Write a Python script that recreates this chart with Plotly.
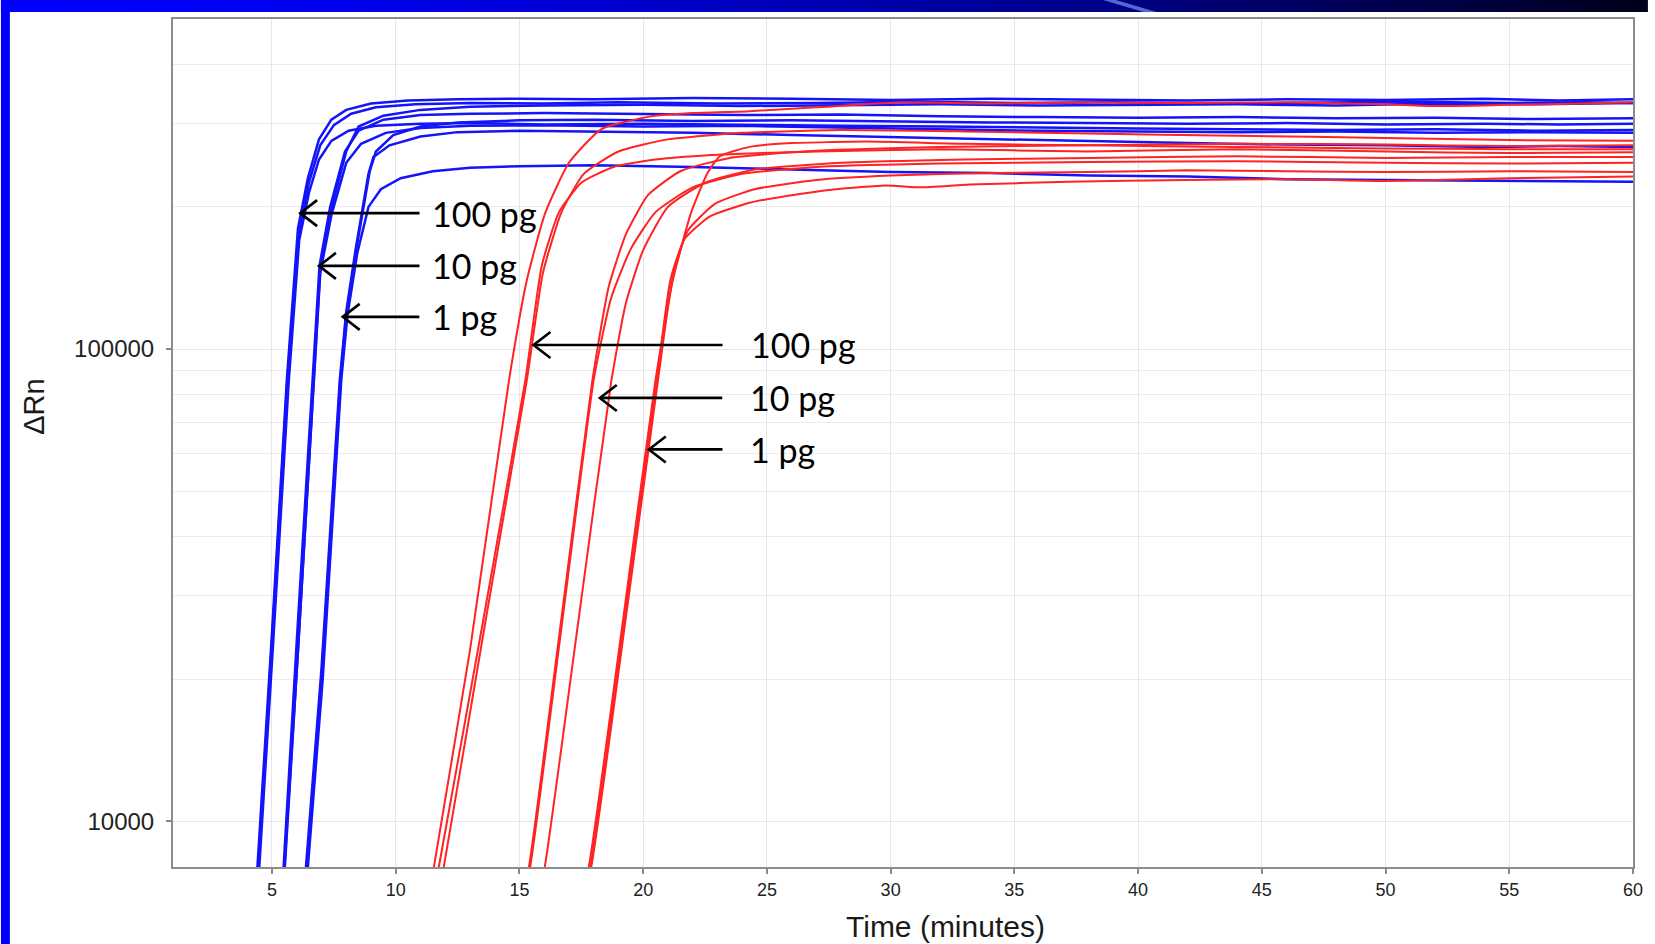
import math
import plotly.graph_objects as go

# ---------------- amplification curves (time in minutes, ΔRn) ----------------
# Blue chemistry: 100 pg (A), 10 pg (B), 1 pg (C), three replicates each
blue_a1_t = [1, 3, 4.0, 4.42, 5.0, 5.6, 6.05, 6.45, 6.9, 7.4, 8.0, 9.0, 10.5, 12.5, 15, 18, 22, 26, 30, 34, 38, 42, 46, 50, 54, 57, 60]
blue_a1_v = [1500, 2100, 3600, 8000, 25000, 86000, 180000, 230000, 278000, 306000, 321000, 331000, 336000, 338000, 339000, 338000, 340000, 339000, 337000, 339000, 338000, 336000, 338000, 337000, 339000, 336000, 338000]
blue_a2_t = [1, 3, 4.0, 4.45, 5.0, 5.62, 6.1, 6.5, 6.95, 7.5, 8.2, 9.2, 10.8, 13, 16, 19, 23, 27, 31, 35, 39, 43, 47, 51, 55, 58, 60]
blue_a2_v = [1400, 2000, 3300, 8000, 24000, 86000, 178000, 226000, 270000, 298000, 315000, 325000, 330000, 332000, 331000, 333000, 331000, 332000, 334000, 332000, 333000, 331000, 333000, 334000, 332000, 333000, 332000]
blue_a3_t = [1, 3, 4.0, 4.5, 5.05, 5.68, 6.1, 6.5, 6.9, 7.4, 8.1, 9.2, 11, 13, 16, 20, 24, 28, 32, 36, 40, 44, 48, 52, 56, 60]
blue_a3_v = [1300, 1900, 3100, 8000, 24000, 86000, 170000, 215000, 252000, 276000, 290000, 297000, 300000, 301000, 299000, 300000, 298000, 297000, 296000, 294000, 293000, 292000, 291000, 292000, 290000, 291000]
blue_b1_t = [1, 3, 5.0, 5.47, 6.0, 6.65, 6.92, 7.35, 7.95, 8.5, 9.5, 11, 13, 16, 20, 24, 28, 32, 36, 40, 44, 48, 52, 56, 60]
blue_b1_v = [1300, 1900, 3500, 8000, 24000, 86000, 150000, 200000, 262000, 290000, 306000, 313000, 315000, 316000, 314000, 313000, 314000, 311000, 310000, 309000, 310000, 308000, 309000, 307000, 308000]
blue_b2_t = [1, 3, 5.0, 5.5, 6.05, 6.68, 6.95, 7.4, 8.0, 8.6, 9.6, 11, 13, 16, 20, 24, 28, 32, 36, 40, 44, 48, 52, 56, 60]
blue_b2_v = [1200, 1800, 3500, 8000, 23000, 86000, 145000, 192000, 248000, 272000, 287000, 294000, 297000, 298000, 296000, 297000, 294000, 292000, 290000, 289000, 288000, 289000, 287000, 288000, 287000]
blue_b3_t = [1, 3, 5.0, 5.52, 6.05, 6.68, 6.95, 7.4, 8.0, 8.5, 9.5, 11, 13, 16, 20, 24, 28, 32, 36, 40, 44, 48, 52, 56, 60]
blue_b3_v = [1200, 1800, 3400, 8000, 23000, 86000, 148000, 198000, 262000, 296000, 312000, 321000, 326000, 328000, 329000, 327000, 328000, 330000, 328000, 329000, 330000, 328000, 331000, 330000, 332000]
blue_c1_t = [1, 3, 6.0, 6.38, 7.0, 7.74, 8.0, 8.4, 8.9, 9.1, 9.75, 11, 12.5, 15, 18, 22, 26, 30, 34, 38, 42, 46, 50, 54, 57, 60]
blue_c1_v = [1100, 1700, 4500, 8000, 21000, 86000, 120000, 165000, 235000, 255000, 270000, 282000, 288000, 290000, 289000, 287000, 284000, 281000, 278000, 275000, 273000, 271000, 270000, 268000, 269000, 268000]
blue_c2_t = [1, 3, 6.0, 6.42, 7.0, 7.76, 8.0, 8.4, 8.95, 9.2, 9.9, 11, 12.5, 15, 18, 22, 26, 30, 34, 38, 42, 46, 50, 54, 57, 60]
blue_c2_v = [1100, 1700, 4400, 8000, 20000, 86000, 118000, 162000, 238000, 262000, 284000, 296000, 302000, 305000, 306000, 304000, 305000, 303000, 302000, 301000, 300000, 301000, 299000, 300000, 299000, 300000]
blue_c3_t = [1, 3, 6.0, 6.45, 7.05, 7.8, 8.05, 8.45, 8.9, 9.4, 10.2, 11.5, 13, 15, 18, 22, 26, 30, 34, 38, 42, 46, 50, 54, 57, 60]
blue_c3_v = [1000, 1600, 4200, 8000, 20000, 86000, 118000, 160000, 200000, 218000, 230000, 238000, 242000, 244000, 245000, 243000, 240000, 237000, 236000, 233000, 232000, 229000, 228000, 227000, 226000, 226000]

# Red chemistry: 100 pg (R1-R3), 10 pg (R4-R6), 1 pg (R7-R9)
red_1_t = [1, 6, 9, 10.5, 11.56, 13, 14.58, 15.3, 16.04, 17.0, 18.3, 20.3, 22, 24.3, 27, 30.5, 34, 38, 42, 46, 50, 52, 55, 58, 60]
red_1_v = [500, 900, 2000, 3600, 8100, 23000, 86000, 140000, 194000, 248000, 292000, 311000, 316000, 319000, 325000, 333000, 331000, 333000, 332000, 333000, 330000, 327000, 329000, 331000, 333000]
red_2_t = [1, 6, 9, 10.5, 11.76, 13.5, 15.24, 15.9, 16.6, 17.5, 18.8, 20.5, 23, 27, 32, 38, 44, 50, 55, 60]
red_2_v = [450, 850, 1900, 3500, 8100, 26000, 86000, 150000, 195000, 225000, 243000, 252000, 258000, 262000, 265000, 262000, 265000, 262000, 260000, 261000]
red_3_t = [1, 6, 9, 10.8, 11.96, 13.6, 15.3, 15.95, 16.7, 17.6, 19, 21, 24, 28, 33, 38, 44, 50, 55, 60]
red_3_v = [430, 800, 1800, 3800, 8100, 26000, 86000, 145000, 195000, 235000, 262000, 278000, 287000, 291000, 289000, 286000, 283000, 280000, 277000, 276000]
red_4_t = [1, 8, 12, 14.2, 15.4, 16.7, 17.95, 18.6, 19.3, 20.2, 21.5, 23.5, 27, 32, 38, 44, 50, 55, 60]
red_4_v = [400, 700, 1600, 3800, 8100, 27000, 86000, 135000, 175000, 212000, 238000, 254000, 263000, 268000, 270000, 272000, 271000, 269000, 270000]
red_5_t = [1, 8, 12, 14.2, 15.45, 16.75, 18.0, 18.7, 19.5, 20.5, 22, 24, 27, 32, 38, 44, 50, 55, 60]
red_5_v = [400, 700, 1500, 3600, 8100, 27000, 86000, 128000, 163000, 195000, 220000, 235000, 243000, 247000, 249000, 250000, 248000, 247000, 248000]
red_6_t = [1, 8, 12, 14.8, 16.04, 17.4, 18.72, 19.3, 20.0, 21.0, 22.5, 24.5, 28, 33, 38, 44, 50, 55, 60]
red_6_v = [380, 650, 1400, 3600, 8100, 27000, 86000, 125000, 162000, 200000, 225000, 240000, 248000, 252000, 254000, 256000, 254000, 255000, 255000]
red_7_t = [1, 8, 13, 16.5, 17.82, 19.2, 20.5, 21.2, 21.93, 22.6, 23.1, 24.3, 26, 29, 33, 38, 44, 50, 55, 60]
red_7_v = [350, 600, 1300, 3800, 8100, 27000, 86000, 140000, 194000, 236000, 256000, 268000, 273000, 275000, 272000, 270000, 268000, 266000, 265000, 265000]
red_8_t = [1, 8, 13, 16.5, 17.88, 19.25, 20.55, 21.1, 21.67, 22.7, 24.3, 25.8, 27.8, 29.8, 31.2, 33.2, 37.2, 41.9, 46, 50, 55, 60]
red_8_v = [330, 580, 1250, 3700, 8100, 27000, 86000, 140000, 171000, 191000, 204000, 211000, 218000, 222000, 220000, 223000, 226000, 228000, 229000, 227000, 230000, 232000]
red_9_t = [1, 8, 13, 16.6, 17.92, 19.3, 20.6, 21.2, 21.8, 22.9, 24.5, 27, 30, 34, 38, 42, 46, 50, 55, 60]
red_9_v = [320, 560, 1200, 3800, 8100, 27000, 86000, 142000, 178000, 203000, 218000, 228000, 233000, 236000, 237000, 239000, 238000, 237000, 238000, 237000]

blue_curves = [
    (blue_a1_t, blue_a1_v), (blue_a2_t, blue_a2_v), (blue_a3_t, blue_a3_v),
    (blue_b1_t, blue_b1_v), (blue_b2_t, blue_b2_v), (blue_b3_t, blue_b3_v),
    (blue_c1_t, blue_c1_v), (blue_c2_t, blue_c2_v), (blue_c3_t, blue_c3_v),
]
red_curves = [
    (red_1_t, red_1_v), (red_2_t, red_2_v), (red_3_t, red_3_v),
    (red_4_t, red_4_v), (red_5_t, red_5_v), (red_6_t, red_6_v),
    (red_7_t, red_7_v), (red_8_t, red_8_v), (red_9_t, red_9_v),
]

# Axis ticks and ranges
x_range = [1, 60]
y_range = [8000, 500000]
x_ticks = [5, 10, 15, 20, 25, 30, 35, 40, 45, 50, 55, 60]
y_ticks = [10000, 100000]
y_ticktext = ["10000", "100000"]
y_minor = [20000, 30000, 40000, 50000, 60000, 70000, 80000, 90000, 200000, 300000, 400000]

# Concentration labels with arrow tips (time, ΔRn) and arrow length in px
labels = ["100 pg", "10 pg", "1 pg"]
blue_tips = [(6.14, 194000), (6.90, 150000), (7.86, 117000)]
blue_arrow_len = [120, 101, 77]
red_tips = [(15.57, 102000), (18.25, 78800), (20.23, 61300)]
red_arrow_len = [190, 123, 74]

# ---------------- figure ----------------
W, H = 1655, 944
ML, MR, MT, MB = 173, 14, 19, 77
PW, PH = W - ML - MR, H - MT - MB
LY0, LY1 = math.log10(y_range[0]), math.log10(y_range[1])


def px_x(px):
    return (px - ML) / PW


def px_y(py):
    return (H - MB - py) / PH


def data_to_paper(t, v):
    return ((t - x_range[0]) / (x_range[1] - x_range[0]),
            (math.log10(v) - LY0) / (LY1 - LY0))


fig = go.Figure()
for t, v in blue_curves:
    fig.add_trace(go.Scatter(x=t, y=v, mode="lines",
                             line=dict(color="rgb(20,20,250)", width=2.5),
                             hoverinfo="skip"))
for t, v in red_curves:
    fig.add_trace(go.Scatter(x=t, y=v, mode="lines",
                             line=dict(color="rgb(255,35,35)", width=2,
                                       shape="spline", smoothing=0.5),
                             hoverinfo="skip"))

annotations = []
shapes = []
label_font = dict(family="Lato, Open Sans, sans-serif", size=34, color="black")

# Open-headed arrows drawn as shapes (shaft + chevron), labels as text
HEAD_BACK, HEAD_HALF = 17, 13


def add_labels(tips, lens, gap):
    for lab, (tx, tv), alen in zip(labels, tips, lens):
        px0, py0 = data_to_paper(tx, tv)
        dx = 1.0 / PW
        dy = 1.0 / PH
        shapes.append(dict(type="line", xref="paper", yref="paper",
                           x0=px0 + 1.5 * dx, y0=py0, x1=px0 + alen * dx, y1=py0,
                           line=dict(color="black", width=2.6), layer="above"))
        head = (f"M {px0 + HEAD_BACK * dx},{py0 + HEAD_HALF * dy} "
                f"L {px0},{py0} "
                f"L {px0 + HEAD_BACK * dx},{py0 - HEAD_HALF * dy}")
        shapes.append(dict(type="path", xref="paper", yref="paper", path=head,
                           line=dict(color="black", width=2.6), layer="above"))
        annotations.append(dict(x=tx, y=math.log10(tv), xref="x", yref="y",
                                text=lab, showarrow=False, xanchor="left", yanchor="middle",
                                xshift=alen + gap, font=label_font))


add_labels(blue_tips, blue_arrow_len, 10)
add_labels(red_tips, red_arrow_len, 25)

axis_font = "Liberation Sans, Arial, sans-serif"
annotations.append(dict(x=px_x(950), y=px_y(926), xref="paper", yref="paper",
                        xanchor="center", yanchor="middle",
                        text="Time (minutes)", showarrow=False,
                        font=dict(family=axis_font, size=30, color="#1a1a1a")))
annotations.append(dict(x=px_x(33), y=px_y(407), xref="paper", yref="paper",
                        xanchor="center", yanchor="middle",
                        text="ΔRn", textangle=-90, showarrow=False,
                        font=dict(family=axis_font, size=29, color="#1a1a1a")))

# Slide frame: blue strip on the left and a shaded band across the top
shapes.append(dict(type="rect", xref="paper", yref="paper",
                   x0=px_x(0), x1=px_x(9), y0=px_y(H), y1=px_y(0),
                   fillcolor="rgb(0,0,250)", line=dict(width=0), layer="above"))
n_steps = 80
for i in range(n_steps):
    f = (i + 0.5) / n_steps
    b = int(255 - 230 * f ** 1.6)
    x0 = W * i / n_steps
    x1 = W * (i + 1) / n_steps + 1
    shapes.append(dict(type="rect", xref="paper", yref="paper",
                       x0=px_x(x0), x1=px_x(x1), y0=px_y(12), y1=px_y(0),
                       fillcolor=f"rgb(0,0,{b})", line=dict(width=0), layer="above"))
stripe = [(1108, 0), (1121, 0), (1162, 12), (1149, 12)]
path = "M " + " L ".join(f"{px_x(a)},{px_y(b)}" for a, b in stripe) + " Z"
shapes.append(dict(type="path", xref="paper", yref="paper", path=path,
                   fillcolor="rgba(95,125,225,0.85)", line=dict(width=0), layer="above"))

fig.update_layout(
    width=W, height=H,
    margin=dict(l=ML, r=MR, t=MT, b=MB, pad=0),
    paper_bgcolor="white", plot_bgcolor="white",
    showlegend=False,
    annotations=annotations,
    shapes=shapes,
    xaxis=dict(range=x_range, tickmode="array", tickvals=x_ticks,
               ticks="outside", ticklen=5, tickcolor="#888", tickwidth=1.5,
               showgrid=True, gridcolor="#e6e6e6", gridwidth=1,
               showline=True, linecolor="#8c8c8c", linewidth=2, mirror=True,
               zeroline=False,
               tickfont=dict(family=axis_font, size=18, color="#222")),
    yaxis=dict(type="log", range=[LY0, LY1],
               tickmode="array", tickvals=y_ticks, ticktext=y_ticktext,
               ticks="outside", ticklen=5, tickcolor="#888", tickwidth=1.5,
               ticklabelstandoff=7,
               showgrid=True, gridcolor="#e6e6e6", gridwidth=1,
               minor=dict(tickmode="array", tickvals=y_minor, showgrid=True,
                          gridcolor="#ebebeb", gridwidth=1, ticks=""),
               showline=True, linecolor="#8c8c8c", linewidth=2, mirror=True,
               zeroline=False,
               tickfont=dict(family=axis_font, size=24, color="#222")),
)

fig.write_html("out.html")
